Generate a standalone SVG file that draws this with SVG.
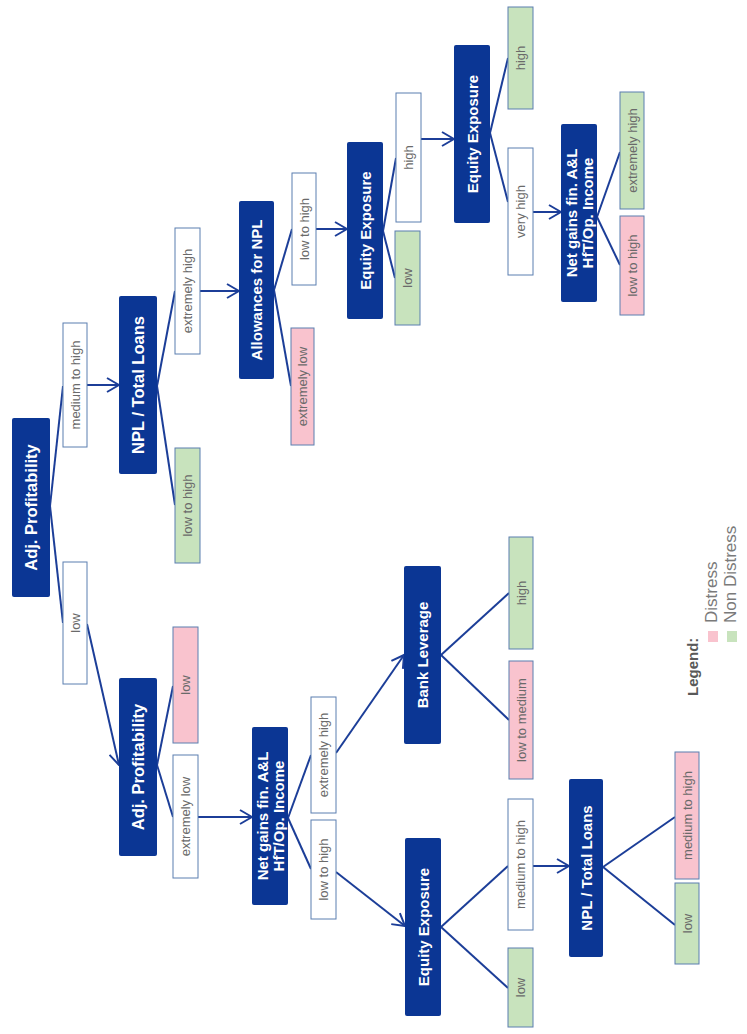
<svg xmlns="http://www.w3.org/2000/svg" width="747" height="1034" viewBox="0 0 747 1034">
<style>
.node rect{fill:#0b3694;}
.node text{fill:#ffffff;font-family:"Liberation Sans",Arial,sans-serif;font-weight:bold;font-size:15px;text-anchor:middle;dominant-baseline:central;}
.node text.big{font-size:16.5px;}
.lbl rect{stroke:#5b7eb0;stroke-width:1;}
.lbl text{fill:#6a6a6a;font-family:"Liberation Sans",Arial,sans-serif;font-size:13px;text-anchor:middle;dominant-baseline:central;}
.w rect{fill:#ffffff;}
.g rect{fill:#c8e3bd;}
.p rect{fill:#f9c3ce;}
#connectors path{stroke:#1c3e98;stroke-width:2;fill:none;}
#connectors path.arr{marker-end:url(#arrow);}
.leg{font-family:"Liberation Sans",Arial,sans-serif;}
</style>
<defs>
<marker id="arrow" markerUnits="userSpaceOnUse" markerWidth="14" markerHeight="16" viewBox="0 0 14 16" refX="13" refY="8" orient="auto">
<path d="M1,1 L13,8 L1,15" fill="none" stroke="#1c3e98" stroke-width="2"/>
</marker>
</defs>
<rect width="747" height="1034" fill="#ffffff"/>

<g id="connectors">
<path d="M50,506 L63,386"/>
<path d="M50,506 L63,623"/>
<path class="arr" d="M87,385 L119,385"/>
<path class="arr" d="M87,624 L119,765"/>
<path d="M157,386 L175,291"/>
<path d="M157,386 L175,505"/>
<path class="arr" d="M200,291 L239,291"/>
<path d="M274,290 L292,229"/>
<path d="M274,290 L291,386"/>
<path class="arr" d="M316,229 L347,229"/>
<path d="M383,231 L396,158"/>
<path d="M383,231 L395,278"/>
<path class="arr" d="M421,139 L454,139"/>
<path d="M490,133 L508,58"/>
<path d="M490,133 L508,202"/>
<path class="arr" d="M533,212 L561,212"/>
<path d="M597,217 L620,152"/>
<path d="M597,217 L620,265"/>
<path d="M157,765 L173,686"/>
<path d="M157,765 L173,817"/>
<path class="arr" d="M198,817 L252,817"/>
<path d="M288,818 L311,755"/>
<path d="M288,818 L311,869"/>
<path class="arr" d="M336,753 L404,655"/>
<path class="arr" d="M336,872 L405,926"/>
<path d="M441,655 L509,593"/>
<path d="M441,655 L509,720"/>
<path d="M441,927 L508,866"/>
<path d="M441,927 L508,988"/>
<path class="arr" d="M533,866 L569,866"/>
<path d="M603,867 L675,817"/>
<path d="M603,867 L675,925"/>
</g>

<g id="n_root" class="node"><rect x="12" y="418" width="38" height="179" rx="2"/><text class="big" transform="translate(31,507.5) rotate(-90)">Adj. Profitability</text></g>
<g id="n_npl1" class="node"><rect x="119" y="296" width="38" height="178" rx="2"/><text class="big" transform="translate(138,385) rotate(-90)">NPL / Total Loans</text></g>
<g id="n_allow" class="node"><rect x="239" y="201" width="35" height="178" rx="2"/><text transform="translate(256.5,290) rotate(-90)">Allowances for NPL</text></g>
<g id="n_eq1" class="node"><rect x="347" y="142" width="36" height="177" rx="2"/><text transform="translate(365,230.5) rotate(-90)">Equity Exposure</text></g>
<g id="n_eq2" class="node"><rect x="454" y="45" width="36" height="178" rx="2"/><text transform="translate(472,134) rotate(-90)">Equity Exposure</text></g>
<g id="n_net1" class="node"><rect x="561" y="124" width="36" height="178" rx="2"/><text transform="translate(571,213) rotate(-90)">Net gains fin. A&amp;L</text><text transform="translate(587,213) rotate(-90)">HfT/Op. Income</text></g>
<g id="n_adj2" class="node"><rect x="119" y="678" width="38" height="178" rx="2"/><text class="big" transform="translate(138,767) rotate(-90)">Adj. Profitability</text></g>
<g id="n_net2" class="node"><rect x="252" y="727" width="36" height="178" rx="2"/><text transform="translate(262,816) rotate(-90)">Net gains fin. A&amp;L</text><text transform="translate(278,816) rotate(-90)">HfT/Op. Income</text></g>
<g id="n_bank" class="node"><rect x="404" y="566" width="37" height="178" rx="2"/><text transform="translate(422.5,655) rotate(-90)">Bank Leverage</text></g>
<g id="n_eq3" class="node"><rect x="405" y="838" width="36" height="178" rx="2"/><text transform="translate(423,927) rotate(-90)">Equity Exposure</text></g>
<g id="n_npl2" class="node"><rect x="569" y="779" width="34" height="178" rx="2"/><text transform="translate(586,868) rotate(-90)">NPL / Total Loans</text></g>

<g id="l1" class="lbl w"><rect x="63" y="323" width="24" height="124"/><text transform="translate(75,385) rotate(-90)">medium to high</text></g>
<g id="l2" class="lbl w"><rect x="63" y="562" width="24" height="122"/><text transform="translate(75,623) rotate(-90)">low</text></g>
<g id="l3" class="lbl g"><rect x="175" y="448" width="25" height="115"/><text transform="translate(187.5,505.5) rotate(-90)">low to high</text></g>
<g id="l4" class="lbl w"><rect x="175" y="228" width="25" height="126"/><text transform="translate(187.5,291) rotate(-90)">extremely high</text></g>
<g id="l5" class="lbl w"><rect x="292" y="173" width="24" height="112"/><text transform="translate(304,229) rotate(-90)">low to high</text></g>
<g id="l6" class="lbl p"><rect x="291" y="328" width="23" height="117"/><text transform="translate(302.5,386.5) rotate(-90)">extremely low</text></g>
<g id="l7" class="lbl w"><rect x="396" y="93" width="25" height="129"/><text transform="translate(408.5,157.5) rotate(-90)">high</text></g>
<g id="l8" class="lbl g"><rect x="395" y="231" width="25" height="94"/><text transform="translate(407.5,278) rotate(-90)">low</text></g>
<g id="l9" class="lbl g"><rect x="508" y="7" width="25" height="102"/><text transform="translate(520.5,58) rotate(-90)">high</text></g>
<g id="l10" class="lbl w"><rect x="508" y="148" width="25" height="127"/><text transform="translate(520.5,211.5) rotate(-90)">very high</text></g>
<g id="l11" class="lbl g"><rect x="620" y="92" width="24" height="117"/><text transform="translate(632,150.5) rotate(-90)">extremely high</text></g>
<g id="l12" class="lbl p"><rect x="620" y="216" width="24" height="99"/><text transform="translate(632,265.5) rotate(-90)">low to high</text></g>
<g id="l13" class="lbl p"><rect x="173" y="627" width="25" height="116"/><text transform="translate(185.5,685) rotate(-90)">low</text></g>
<g id="l14" class="lbl w"><rect x="173" y="755" width="25" height="123"/><text transform="translate(185.5,816.5) rotate(-90)">extremely low</text></g>
<g id="l15" class="lbl w"><rect x="311" y="697" width="25" height="116"/><text transform="translate(323.5,755) rotate(-90)">extremely high</text></g>
<g id="l16" class="lbl w"><rect x="311" y="820" width="25" height="99"/><text transform="translate(323.5,869.5) rotate(-90)">low to high</text></g>
<g id="l17" class="lbl g"><rect x="509" y="537" width="24" height="112"/><text transform="translate(521,593) rotate(-90)">high</text></g>
<g id="l18" class="lbl p"><rect x="509" y="661" width="24" height="118"/><text transform="translate(521,720) rotate(-90)">low to medium</text></g>
<g id="l19" class="lbl w"><rect x="508" y="799" width="25" height="131"/><text transform="translate(520.5,864.5) rotate(-90)">medium to high</text></g>
<g id="l20" class="lbl g"><rect x="508" y="948" width="25" height="79"/><text transform="translate(520.5,987.5) rotate(-90)">low</text></g>
<g id="l21" class="lbl p"><rect x="675" y="752" width="24" height="127"/><text transform="translate(687,815.5) rotate(-90)">medium to high</text></g>
<g id="l22" class="lbl g"><rect x="675" y="883" width="24" height="81"/><text transform="translate(687,923.5) rotate(-90)">low</text></g>

<g id="legend" class="leg">
<text transform="translate(698,696) rotate(-90)" font-size="15" font-weight="bold" fill="#595959">Legend:</text>
<rect x="708" y="631" width="10" height="11" fill="#f9c3ce"/>
<text transform="translate(717,623) rotate(-90)" font-size="17" fill="#7a7a7a">Distress</text>
<rect x="727" y="631" width="10" height="11" fill="#c8e3bd"/>
<text transform="translate(736,623) rotate(-90)" font-size="17" fill="#7a7a7a">Non Distress</text>
</g>
</svg>
